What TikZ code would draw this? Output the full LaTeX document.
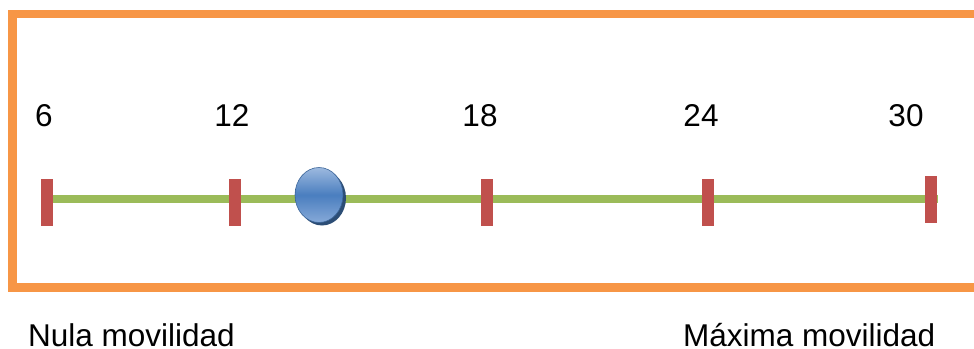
\documentclass[tikz,border=0pt]{standalone}
\usepackage{fontspec}
\setmainfont{Liberation Sans}
\usetikzlibrary{shadings}
\definecolor{frameorange}{HTML}{F79646}
\definecolor{linegreen}{HTML}{9BBB59}
\definecolor{tickred}{HTML}{C0504D}
\definecolor{balltop}{HTML}{9DB9DF}
\definecolor{ballmid}{HTML}{4A7EBF}
\definecolor{ballbot}{HTML}{86A9D8}
\definecolor{ballshadow}{HTML}{2C4D75}
\tikzset{
  tickbox/.style={fill=tickred, minimum width=12pt, minimum height=47pt, inner sep=0pt, draw=none},
  numlabel/.style={anchor=base, font=\fontsize{31.5}{36}\selectfont, inner sep=0pt},
  captionlabel/.style={anchor=base west, font=\fontsize{31.5}{36}\selectfont, inner sep=0pt},
}
\begin{document}
\begin{tikzpicture}[x=1pt,y=-1pt]
\useasboundingbox (0,0) rectangle (974,348);
\fill[white] (0,0) rectangle (974,348);
\begin{scope}
\clip (0,0) rectangle (974,348);
\draw[frameorange, line width=8.5pt] (12.5,14) rectangle (1000,287.5);
\end{scope}
% ticks
\node[tickbox] (t6)  at (47,202.5) {};
\node[tickbox] (t12) at (235,202.5) {};
\node[tickbox] (t18) at (487,202.5) {};
\node[tickbox] (t24) at (708,202.5) {};
\node[tickbox] (t30) at (931,199.5) {};
% green line
\coordinate (lineend) at (938,199);
\draw[linegreen, line width=7.5pt] (t6.center |- lineend) -- (lineend);
\foreach \t in {t6,t12,t18,t24,t30} {\fill[tickred] (\t.south west) rectangle (\t.north east);}
% ball
\fill[ballshadow] (322,198) ellipse (24pt and 27.5pt);
\shade[top color=balltop, bottom color=ballbot, middle color=ballmid, draw=ballmid!80!black, line width=0.6pt] (319,195) ellipse (24pt and 27.5pt);
\node[inner sep=0pt, minimum width=48pt, minimum height=55pt] (ball) at (319,195) {};
% numbers
\node[numlabel] (n6)  at (44,126) {6};
\node[numlabel] (n12) at (232,126) {12};
\node[numlabel] (n18) at (480,126) {18};
\node[numlabel] (n24) at (701,126) {24};
\node[numlabel] (n30) at (906,126) {30};
% captions
\node[captionlabel] (nula) at (28,346) {Nula movilidad};
\node[captionlabel] (maxima) at (683,346) {Máxima movilidad};
\end{tikzpicture}
\end{document}
